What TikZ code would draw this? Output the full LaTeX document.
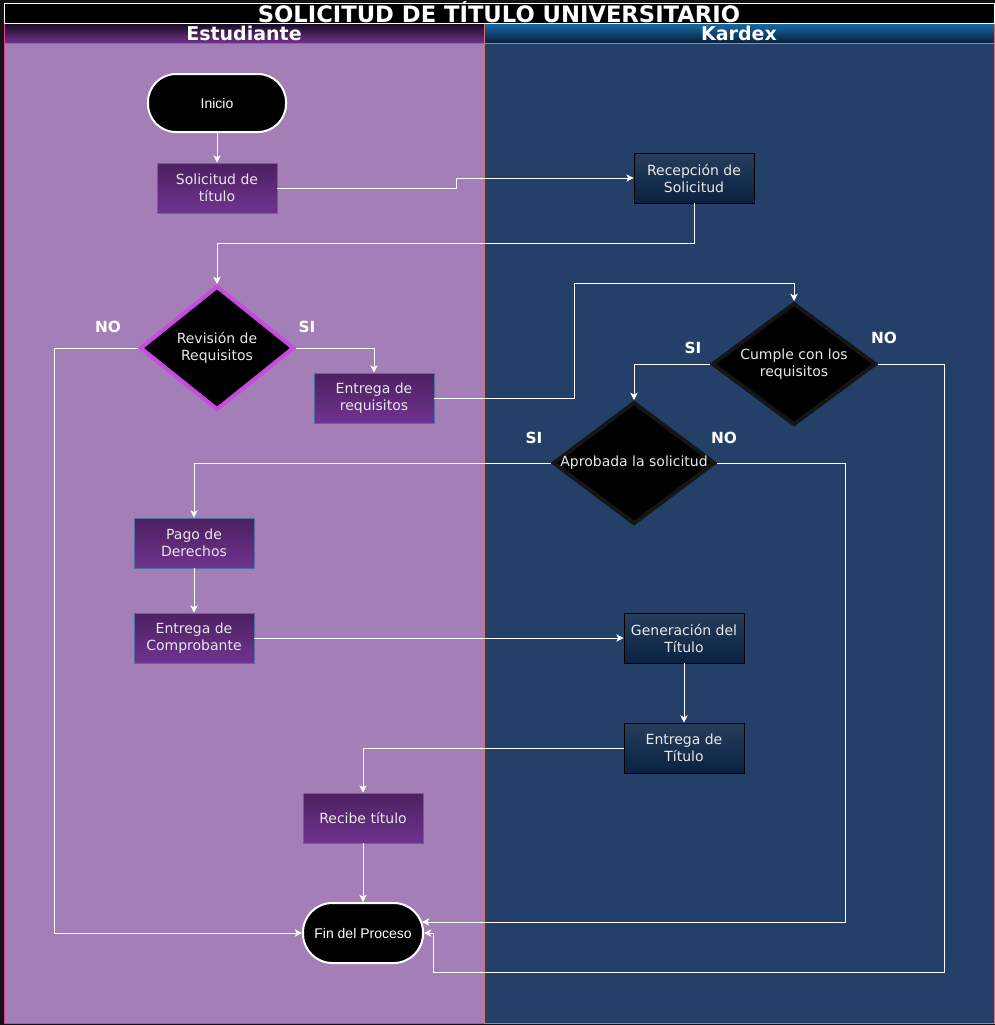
\documentclass[tikz,border=0pt]{standalone}
\usepackage{fontspec}
\setmainfont{DejaVu Sans}
\newfontfamily\arialf{Liberation Sans}
\usepackage{xcolor}
\usetikzlibrary{arrows.meta,calc,shapes.geometric}
\definecolor{estlane}{HTML}{A37EB7}
\definecolor{karlane}{HTML}{254068}
\definecolor{estedge}{HTML}{E0408A}
\definecolor{karedge}{HTML}{E07070}
\definecolor{purtop}{HTML}{4C2060}
\definecolor{purbot}{HTML}{70338F}
\definecolor{navtop}{HTML}{263D5C}
\definecolor{navbot}{HTML}{0A2242}
\definecolor{boxedge}{HTML}{4F6FA0}
\definecolor{boxtxt}{HTML}{E8E8E8}
\definecolor{revedge}{HTML}{C84AE0}
\definecolor{diamedge}{HTML}{151515}

\begin{document}
\begin{tikzpicture}[x=0.75pt,y=-0.75pt,>={Stealth[length=5.5pt,width=5.5pt,inset=1.5pt]},
  flow/.style={->,draw=white,line width=0.65pt},
  proc/.style={rectangle,draw=boxedge,line width=0.6pt,top color=purtop,bottom color=purbot,minimum width=90pt,minimum height=37.5pt,inner sep=0pt,align=center,text=boxtxt,font=\fontsize{10.5}{12.75}\selectfont},
  kproc/.style={proc,draw=black,top color=navtop,bottom color=navbot},
  term/.style={rectangle,draw=white,line width=1.5pt,fill=black,text=white,font=\arialf\fontsize{10.5}{12}\selectfont},
  decis/.style={diamond,fill=black,draw=diamedge,line width=3pt,inner sep=0pt},
  dtxt/.style={align=center,text=boxtxt,font=\fontsize{10.5}{12.75}\selectfont},
  yn/.style={text=white,font=\bfseries\fontsize{11.5}{13}\selectfont},
  hdr/.style={text=white,inner sep=0pt,font=\bfseries\fontsize{14.25}{16}\selectfont}]
\useasboundingbox (0,0) rectangle (995,1025);
\fill[black!93] (0,0) rectangle (995,1025);

% lanes
\fill[estlane] (4,43) rectangle (484,1023);
\fill[karlane] (484,43) rectangle (994,1023);
\draw[estedge] (4,43) rectangle (484,1023);
\draw[karedge] (484,43) rectangle (994,1023);
\shade[top color=black!70!purtop,bottom color=purbot] (4,23) rectangle (484,43);
\shade[top color={rgb,255:red,24;green,108;blue,170},bottom color={rgb,255:red,8;green,32;blue,60}] (484,23) rectangle (994,43);
\draw[estedge] (4,23) rectangle (484,43);
\draw[karedge] (484,23) rectangle (994,43);
\draw[white,fill=black,line width=0.6pt] (4,3) rectangle (994,23);
\node[text=white,inner sep=0pt,font=\bfseries\fontsize{17}{18}\selectfont] (title) at (499,12.5) {SOLICITUD DE TÍTULO UNIVERSITARIO};
\node[hdr] (est) at (244,33.5) {Estudiante};
\node[hdr] (kar) at (739,33.5) {Kardex};

% nodes
\node[term,rounded corners=21pt,minimum width=103.5pt,minimum height=43.5pt] (ini) at (217,103) {Inicio};
\node[proc] (sol) at (217,188) {Solicitud de\\título};
\node[kproc] (rec) at (694,178) {Recepción de\\Solicitud};
\node[decis,draw=revedge,minimum width=115.5pt,minimum height=93pt] (rev) at (217,348) {};
\node[dtxt] (revt) at (rev) {Revisión de\\Requisitos};
\node[proc] (ereq) at (374,398) {Entrega de\\requisitos};
\node[decis,minimum width=123pt,minimum height=91.5pt] (cum) at (794,364) {};
\node[dtxt] (cumt) at (cum) {Cumple con los\\requisitos};
\node[decis,minimum width=121.5pt,minimum height=91.5pt] (apr) at (634,463) {};
\node[dtxt] (aprt) at (apr) {Aprobada la solicitud};
\node[proc] (pago) at (194,543) {Pago de\\Derechos};
\node[proc] (ecom) at (194,638) {Entrega de\\Comprobante};
\node[kproc] (gen) at (684,638) {Generación del\\Título};
\node[kproc] (etit) at (684,748) {Entrega de\\Título};
\node[proc] (recb) at (363,818) {Recibe título};
\node[term,rounded corners=22pt,minimum width=90pt,minimum height=45pt] (fin) at (363,933) {Fin del Proceso};

% connectors
\draw[flow] (ini) -- (sol);
\draw[flow] (sol.east) -- (456,188) |- (rec.west);
\draw[flow] (rec.south) -- (694,243) -| (rev.north);
\draw[flow] (rev.east) -| (ereq.north);
\draw[flow] (rev.west) -- (54,348) |- (fin.west);
\draw[flow] (ereq.east) -- (574,398) -- (574,283) -| (cum.north);
\draw[flow] (cum.west) -| (apr.north);
\draw[flow] (cum.east) -- (944,364) -- (944,972) -- (433,972) |- (fin.east);
\draw[flow] (apr.west) -| (pago.north);
\draw[flow] (apr.east) -- (845,463) |- ($(fin.east)+(-2,-11)$);
\draw[flow] (pago) -- (ecom);
\draw[flow] (ecom) -- (gen);
\draw[flow] (gen) -- (etit);
\draw[flow] (etit.west) -| (recb.north);
\draw[flow] (recb) -- (fin);

% labels
\node[yn] (revno) at (108,327) {NO};
\node[yn] (revsi) at (307,327) {SI};
\node[yn] (cumsi) at (693,348) {SI};
\node[yn] (cumno) at (884,338) {NO};
\node[yn] (aprsi) at (534,438) {SI};
\node[yn] (aprno) at (724,438) {NO};
\end{tikzpicture}
\end{document}
